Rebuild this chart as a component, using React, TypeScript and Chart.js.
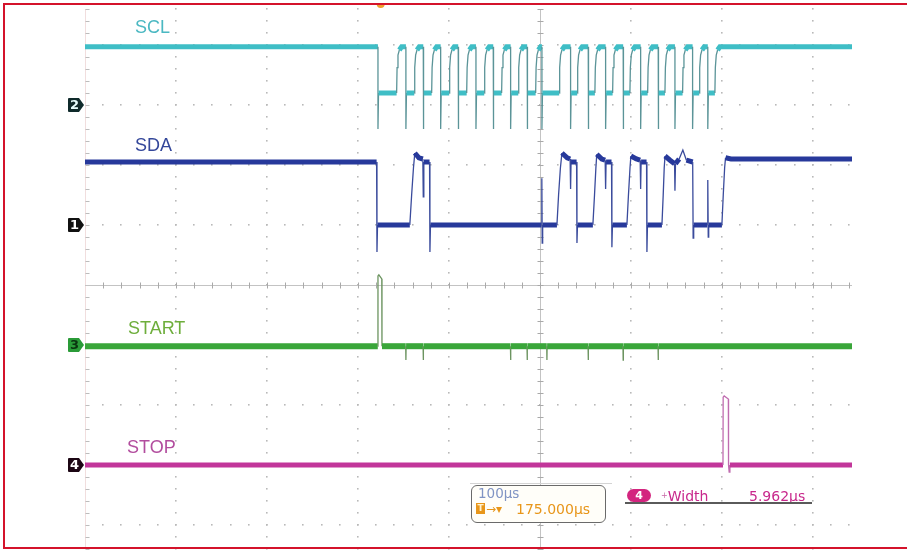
import React, { useEffect, useRef } from "react";
import { Chart, registerables } from "chart.js";

Chart.register(...registerables);

// ---- time base (µs relative to trigger) and vertical divisions ----
const TIME_MIN = -325;
const TIME_MAX = 518;
const TIME_PER_DIV = 100;
const TRIGGER_DELAY = 175; // screen centre is 175 µs after the trigger
const DIV_MIN = -4.4;
const DIV_MAX = 4.6;

// ---- SCL (channel 2): falling and rising edge times, µs ----
const sclFall = [-3.0, 27.7, 46.8, 65.9, 85.2, 104.7, 123.7, 142.8, 161.0, 177.2, 208.7, 228.1, 247.2, 266.5, 285.7, 305.0, 323.4, 342.8, 359.5];
const sclRise = [17.5, 36.9, 56.0, 75.3, 94.5, 113.8, 132.9, 151.2, 170.3, 196.2, 216.0, 235.4, 254.9, 273.9, 293.4, 312.4, 331.8, 350.1, 367.3];
const sclHigh = 3.97;
const sclLow = 3.2;
const sclSpike = 2.6;
// RC rise shape: [µs after edge, fraction of swing]
const sclRiseProfile: [number, number][] = [[0, 0], [0.5, 0.55], [1.5, 0.82], [3, 0.93], [5.5, 1]];

// ---- SDA (channel 1): [µs, div] ----
const sdaPoints: [number, number][] = [
  [-325, 2.05], [-4.5, 2.05], [-4.1, 0.55], [-3.5, 1.0],
  [32, 1.0], [34, 1.5], [36, 1.95], [37.5, 2.2], [42, 2.12], [46.3, 2.1], [46.8, 1.47], [47.4, 2.05], [53.7, 2.05], [54.1, 0.55], [54.7, 1.0],
  [176.8, 1.0], [177.1, 1.78], [177.5, 0.7], [178, 1.0],
  [193.7, 1.0], [195.5, 1.5], [197.5, 1.95], [199.2, 2.2], [205, 2.12], [208.2, 2.1], [208.7, 1.6], [209.2, 2.05], [215.3, 2.05], [215.7, 0.7], [216.3, 1.0],
  [233.2, 1.0], [235, 1.5], [236.5, 1.95], [237.5, 2.18], [243, 2.1], [246.7, 2.08], [247.2, 1.6], [247.7, 2.05], [253.7, 2.05], [254.1, 0.63], [254.7, 1.0],
  [270.6, 1.0], [272.3, 1.5], [274, 1.95], [275, 2.15], [281, 2.1], [285.2, 2.08], [285.7, 1.6], [286.2, 2.05], [292.2, 2.05], [292.6, 0.55], [293.2, 1.0],
  [309.1, 1.0], [310.5, 1.5], [311.6, 1.95], [312.5, 2.15], [318, 2.08], [323, 2.02], [323.4, 1.57], [324, 2.02], [328, 2.1], [332.1, 2.25], [336, 2.08], [342.9, 2.05], [343.4, 0.78], [344, 1.0],
  [359, 1.0], [359.5, 1.75], [360, 0.8], [360.5, 1.0],
  [375, 1.0], [376.5, 1.5], [378, 1.95], [379, 2.12], [385, 2.1], [518, 2.1],
];

// ---- START (channel 3) ----
const startBase = -1.02;
const startPulse: [number, number][] = [[-3.2, -1.02], [-3.0, 0.15], [-2.0, 0.17], [1.2, 0.1], [1.4, -1.02]];
const startGlitches = [27.7, 46.8, 142.8, 161.0, 182.7, 228.1, 266.5, 305.0];
const startGlitchLevel = -1.25;

// ---- STOP (channel 4) ----
const stopBase = -3.0;
const stopPulse: [number, number][] = [[376.2, -3.0], [376.4, -1.87], [377.5, -1.85], [382.1, -1.9], [382.3, -3.0], [383.0, -3.12], [383.8, -3.0]];

// ---- channel ground markers ----
const markerLabels = ["2", "1", "3", "4"];
const markerLevels = [3.0, 1.0, -1.0, -3.0];
const markerFill = ["#0f2a2b", "#111111", "#2a9b38", "#1c0614"];
const markerText = ["#e8ffff", "#ffffff", "#0a3510", "#ffffff"];

type P = { x: number; y: number };

function buildScl(): P[] {
  const pts: P[] = [{ x: TIME_MIN, y: sclHigh }];
  for (let i = 0; i < sclFall.length; i++) {
    const f = sclFall[i];
    const r = sclRise[i];
    pts.push({ x: f, y: sclHigh });
    pts.push({ x: f, y: sclSpike });
    pts.push({ x: f + 0.6, y: sclLow });
    pts.push({ x: r, y: sclLow });
    for (const [dt, fr] of sclRiseProfile) {
      if (dt === 0) continue;
      pts.push({ x: r + dt, y: sclLow + fr * (sclHigh - sclLow) });
    }
  }
  pts.push({ x: TIME_MAX, y: sclHigh });
  return pts;
}

function buildStart(): P[] {
  const pts: P[] = [{ x: TIME_MIN, y: startBase }];
  const events: [number, number][] = [...startPulse];
  for (const g of startGlitches) {
    events.push([g - 0.2, startBase], [g, startGlitchLevel], [g + 0.2, startBase]);
  }
  events.sort((a, b) => a[0] - b[0]);
  for (const [x, y] of events) pts.push({ x, y });
  pts.push({ x: TIME_MAX, y: startBase });
  return pts;
}

function buildStop(): P[] {
  const pts: P[] = [{ x: TIME_MIN, y: stopBase }];
  for (const [x, y] of stopPulse) pts.push({ x, y });
  pts.push({ x: TIME_MAX, y: stopBase });
  return pts;
}

function trace(label: string, data: P[], color: string, edge: string, thick: number, thin: number, minThickPx = 0) {
  const thinSeg = (ctx: any) => {
    const dx = Math.abs(ctx.p1.x - ctx.p0.x);
    const dy = Math.abs(ctx.p1.y - ctx.p0.y);
    return dy > dx * 1.5 || dx < minThickPx;
  };
  return {
    label,
    data,
    borderColor: color,
    borderWidth: thick,
    pointRadius: 0,
    tension: 0,
    fill: false,
    clip: false as any,
    segment: {
      borderWidth: (ctx: any) => (thinSeg(ctx) ? thin : thick),
      borderColor: (ctx: any) => (thinSeg(ctx) ? edge : color),
    },
  };
}

const gridPlugin = {
  id: "scopeGrid",
  beforeDatasetsDraw(chart: any) {
    const { ctx, chartArea: a, scales } = chart;
    const x = scales.x;
    const y = scales.y;
    ctx.save();
    // dotted verticals
    ctx.fillStyle = "#b9b9b9";
    for (let t = TIME_MIN + TIME_PER_DIV; t < TIME_MAX; t += TIME_PER_DIV) {
      if (Math.abs(t - TRIGGER_DELAY) < 1e-6) continue;
      const px = Math.round(x.getPixelForValue(t));
      for (let k = 0; DIV_MIN + k * 0.2 <= DIV_MAX + 1e-6; k++) {
        const py = Math.round(y.getPixelForValue(DIV_MIN + k * 0.2));
        ctx.fillRect(px - 1, py - 1, 1.6, 1.6);
      }
    }
    // dotted horizontals
    for (let v = -4; v <= 4; v++) {
      if (v === 0) continue;
      const py = Math.round(y.getPixelForValue(v));
      for (let t = TIME_MIN + 20; t < TIME_MAX; t += 20) {
        const px = Math.round(x.getPixelForValue(t));
        ctx.fillRect(px - 1, py - 1, 1.6, 1.6);
      }
    }
    // left edge
    const lx = Math.round(a.left) + 0.5;
    ctx.strokeStyle = "#f1dede";
    ctx.lineWidth = 1;
    ctx.beginPath();
    ctx.moveTo(lx, a.top);
    ctx.lineTo(lx, a.bottom);
    ctx.stroke();
    ctx.strokeStyle = "#bdbdbd";
    ctx.beginPath();
    for (let k = 0; DIV_MIN + k * 0.2 <= DIV_MAX + 1e-6; k++) {
      const py = Math.round(y.getPixelForValue(DIV_MIN + k * 0.2)) + 0.5;
      ctx.moveTo(lx, py);
      ctx.lineTo(lx + 4, py);
    }
    ctx.stroke();
    // centre lines with ticks
    const cx = Math.round(x.getPixelForValue(TRIGGER_DELAY)) + 0.5;
    const cy = Math.round(y.getPixelForValue(0)) + 0.5;
    ctx.strokeStyle = "#c3c3c3";
    ctx.beginPath();
    ctx.moveTo(cx, a.top);
    ctx.lineTo(cx, a.bottom);
    ctx.moveTo(a.left, cy);
    ctx.lineTo(a.right, cy);
    ctx.stroke();
    ctx.strokeStyle = "#a9a9a9";
    ctx.beginPath();
    for (let k = 0; DIV_MIN + k * 0.2 <= DIV_MAX + 1e-6; k++) {
      const py = Math.round(y.getPixelForValue(DIV_MIN + k * 0.2)) + 0.5;
      ctx.moveTo(cx - 3, py);
      ctx.lineTo(cx + 3, py);
    }
    for (let t = TIME_MIN + 20; t < TIME_MAX; t += 20) {
      const px = Math.round(x.getPixelForValue(t)) + 0.5;
      ctx.moveTo(px, cy - 3);
      ctx.lineTo(px, cy + 3);
    }
    ctx.stroke();
    ctx.restore();
  },
  afterDraw(chart: any) {
    const { ctx, chartArea: a, scales } = chart;
    const x = scales.x;
    const y = scales.y;
    ctx.save();
    // channel ground markers
    markerLevels.forEach((v, i) => {
      const py = y.getPixelForValue(v);
      const l = a.left - 17;
      const r = a.left - 1;
      ctx.fillStyle = markerFill[i];
      ctx.beginPath();
      ctx.moveTo(l + 1, py - 7);
      ctx.lineTo(r - 5, py - 7);
      ctx.lineTo(r, py);
      ctx.lineTo(r - 5, py + 7);
      ctx.lineTo(l + 1, py + 7);
      ctx.quadraticCurveTo(l, py + 7, l, py + 6);
      ctx.lineTo(l, py - 6);
      ctx.quadraticCurveTo(l, py - 7, l + 1, py - 7);
      ctx.closePath();
      ctx.fill();
      ctx.fillStyle = markerText[i];
      ctx.font = "bold 13px 'DejaVu Sans', sans-serif";
      ctx.textAlign = "center";
      ctx.textBaseline = "middle";
      ctx.fillText(markerLabels[i], l + 6.5, py + 0.5);
    });
    // trigger position marker at top
    const tx = x.getPixelForValue(0);
    ctx.fillStyle = "#f0a030";
    ctx.beginPath();
    ctx.arc(tx, 4, 4, 0, Math.PI);
    ctx.fill();
    ctx.restore();
  },
};

const SANS = "'Liberation Sans', Arial, sans-serif";
const MONO = "'DejaVu Sans', sans-serif";

export default function App() {
  const ref = useRef<HTMLCanvasElement>(null);

  useEffect(() => {
    if (!ref.current) return;
    const chart = new Chart(ref.current, {
      type: "line",
      data: {
        datasets: [
          trace("SCL", buildScl(), "#3fbec6", "#5b9498", 5, 1.3),
          trace("SDA", sdaPoints.map(([px, py]) => ({ x: px, y: py })), "#27399b", "#3a4b9c", 5, 1.3),
          trace("START", buildStart(), "#3aa63a", "#6c9460", 6, 1.3, 8),
          trace("STOP", buildStop(), "#c2369a", "#c06cb0", 5, 1.3, 8),
        ] as any,
      },
      options: {
        responsive: false,
        animation: false,
        devicePixelRatio: 1,
        layout: { padding: { left: 85, right: 55, top: 9, bottom: 1 } },
        scales: {
          x: { type: "linear", min: TIME_MIN, max: TIME_MAX, display: false },
          y: { type: "linear", min: DIV_MIN, max: DIV_MAX, display: false },
        },
        plugins: { legend: { display: false }, tooltip: { enabled: false } },
        elements: { point: { radius: 0 }, line: { borderCapStyle: "butt", borderJoinStyle: "miter" } },
      },
      plugins: [gridPlugin],
    } as any);
    return () => chart.destroy();
  }, []);

  const label = (text: string, left: number, baseline: number, color: string) => (
    <div
      style={{
        position: "absolute",
        left,
        top: baseline - 15.24,
        fontFamily: SANS,
        fontSize: 18,
        lineHeight: "18px",
        color,
        whiteSpace: "nowrap",
      }}
    >
      {text}
    </div>
  );

  const mono = (content: React.ReactNode, left: number, baseline: number, color: string, size = 14) => (
    <div
      style={{
        position: "absolute",
        left,
        top: baseline - 0.846 * size,
        fontFamily: MONO,
        fontSize: size,
        lineHeight: `${size}px`,
        color,
        whiteSpace: "nowrap",
      }}
    >
      {content}
    </div>
  );

  return (
    <div style={{ position: "fixed", left: 0, top: 0, width: 907, height: 550, overflow: "hidden", background: "#fff" }}>
      <canvas ref={ref} width={907} height={550} style={{ position: "absolute", left: 0, top: 0, width: 907, height: 550 }} />
      {label("SCL", 135, 33, "#4bb8c2")}
      {label("SDA", 135, 151, "#34479a")}
      {label("START", 128, 334, "#6eae3c")}
      {label("STOP", 127, 453, "#b24d9e")}

      {/* timebase readout box */}
      <div style={{ position: "absolute", left: 470, top: 483, width: 142, height: 1, background: "#d4d4d4" }} />
      <div
        style={{
          position: "absolute",
          left: 471,
          top: 485,
          width: 135,
          height: 38,
          boxSizing: "border-box",
          border: "1.5px solid #6a6a6a",
          borderRadius: 6,
          background: "#fffef9",
        }}
      />
      {mono("100µs", 478, 498, "#8094c4", 13.5)}
      <div
        style={{
          position: "absolute",
          left: 476,
          top: 503,
          width: 9,
          height: 11,
          background: "#e8961a",
          color: "#fff3d0",
          fontFamily: MONO,
          fontSize: 9,
          lineHeight: "11px",
          textAlign: "center",
          fontWeight: "bold",
        }}
      >
        T
      </div>
      {mono("→▾", 486, 513, "#e8961a", 12)}
      {mono("175.000µs", 516, 514, "#e8961a", 14)}

      {/* measurement readout */}
      <div
        style={{
          position: "absolute",
          left: 627,
          top: 489,
          width: 24,
          height: 13,
          borderRadius: 7,
          background: "#d3257f",
          color: "#fff",
          fontFamily: MONO,
          fontWeight: "bold",
          fontSize: 11,
          lineHeight: "13px",
          textAlign: "center",
        }}
      >
        4
      </div>
      {mono(
        <span>
          <span style={{ fontSize: 8, verticalAlign: "3px", color: "#c86aa8" }}>+</span>Width
        </span>,
        661,
        501,
        "#c8288c",
        14
      )}
      {mono("5.962µs", 749, 501, "#c8288c", 14)}
      <div style={{ position: "absolute", left: 625, top: 502, width: 187, height: 2, background: "#5a5a5a" }} />

      {/* red frame */}
      <div
        style={{
          position: "absolute",
          left: 3,
          top: 3,
          width: 920,
          height: 546,
          boxSizing: "border-box",
          borderTop: "2px solid #d4132b",
          borderLeft: "2px solid #d4132b",
          borderBottom: "2px solid #d4132b",
          pointerEvents: "none",
        }}
      />
    </div>
  );
}
